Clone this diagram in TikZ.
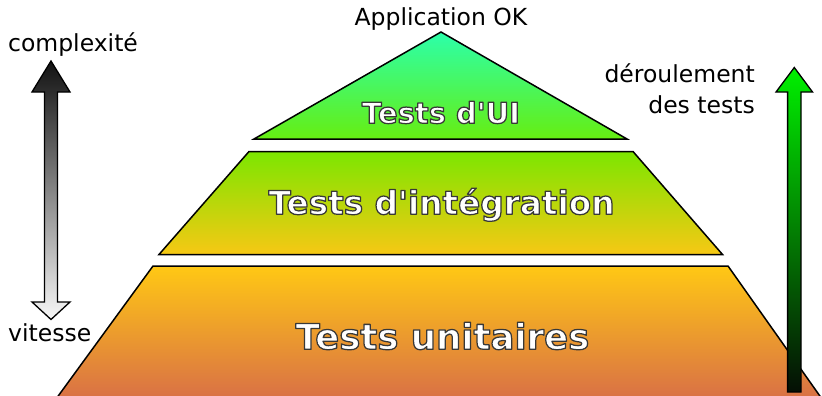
\documentclass[tikz,border=0pt]{standalone}
\usepackage{fontspec}
\setmainfont{DejaVu Sans}[Ligatures=TeXOff]
\newcommand{\outlined}[1]{\special{pdf:literal direct 0.22 G 1.25 w 1 j 2 Tr}#1\special{pdf:literal direct 0 Tr}}
\definecolor{uitop}{RGB}{44,255,170}
\definecolor{uibot}{RGB}{102,238,17}
\definecolor{inttop}{RGB}{124,230,0}
\definecolor{intbot}{RGB}{247,200,20}
\definecolor{unittop}{RGB}{255,200,20}
\definecolor{unitbot}{RGB}{217,112,70}
\definecolor{runtop}{RGB}{0,240,0}
\definecolor{runbot}{RGB}{5,15,5}
\tikzset{
  layer/.style={draw=black, line width=1.5pt, line join=miter},
  arrowshape/.style={draw=black, line width=1.3pt, line join=miter},
  plainlabel/.style={font=\fontsize{23.5}{28}\selectfont, inner sep=0pt, text=black},
  biglabel/.style={inner sep=0pt, text=white},
}
\begin{document}
\begin{tikzpicture}[x=1pt,y=-1pt]
\useasboundingbox (0,0) rectangle (822,396);
\clip (0,0) rectangle (822,396);
% pyramid layers
\path[layer, top color=unittop, bottom color=unitbot]
  (153,266) -- (728,266) -- (822,399) -- (56,399) -- cycle;
\path[layer, top color=inttop, bottom color=intbot]
  (249,151.5) -- (633,151.5) -- (722.5,254.5) -- (159,254.5) -- cycle;
\path[layer, top color=uitop, bottom color=uibot]
  (441,32) -- (627,139) -- (254,139) -- cycle;
% left double arrow
\path[arrowshape, top color=black!93, bottom color=black!3]
  (51,61) -- (70,92) -- (57.5,92) -- (57.5,302) -- (70,302) -- (51,319.5)
  -- (32,302) -- (44.5,302) -- (44.5,92) -- (32,92) -- cycle;
% right arrow
\path[arrowshape, top color=runtop, bottom color=runbot]
  (794.3,67.5) -- (812.5,92) -- (801,92) -- (801,392) -- (787.6,392)
  -- (787.6,92) -- (776,92) -- cycle;
% labels
\node[plainlabel, anchor=base] (app) at (441,26) {Application OK};
\node[plainlabel, anchor=base] (cplx) at (73,52) {complexité};
\node[plainlabel, anchor=base west] (vit) at (8,341) {vitesse};
\node[plainlabel, anchor=base east] (der) at (755,83) {déroulement};
\node[plainlabel, anchor=base east] (des) at (755,113) {des tests};
\node[biglabel, anchor=base, font=\bfseries\fontsize{29}{34}\selectfont] (ui) at (441,123.3) {\outlined{Tests d'UI}};
\node[biglabel, anchor=base, font=\bfseries\fontsize{32.7}{38}\selectfont] (integ) at (441.5,214.3) {\outlined{Tests d'intégration}};
\node[biglabel, anchor=base, font=\bfseries\fontsize{35.5}{40}\selectfont] (unit) at (442.5,349.3) {\outlined{Tests unitaires}};
\end{tikzpicture}
\end{document}
